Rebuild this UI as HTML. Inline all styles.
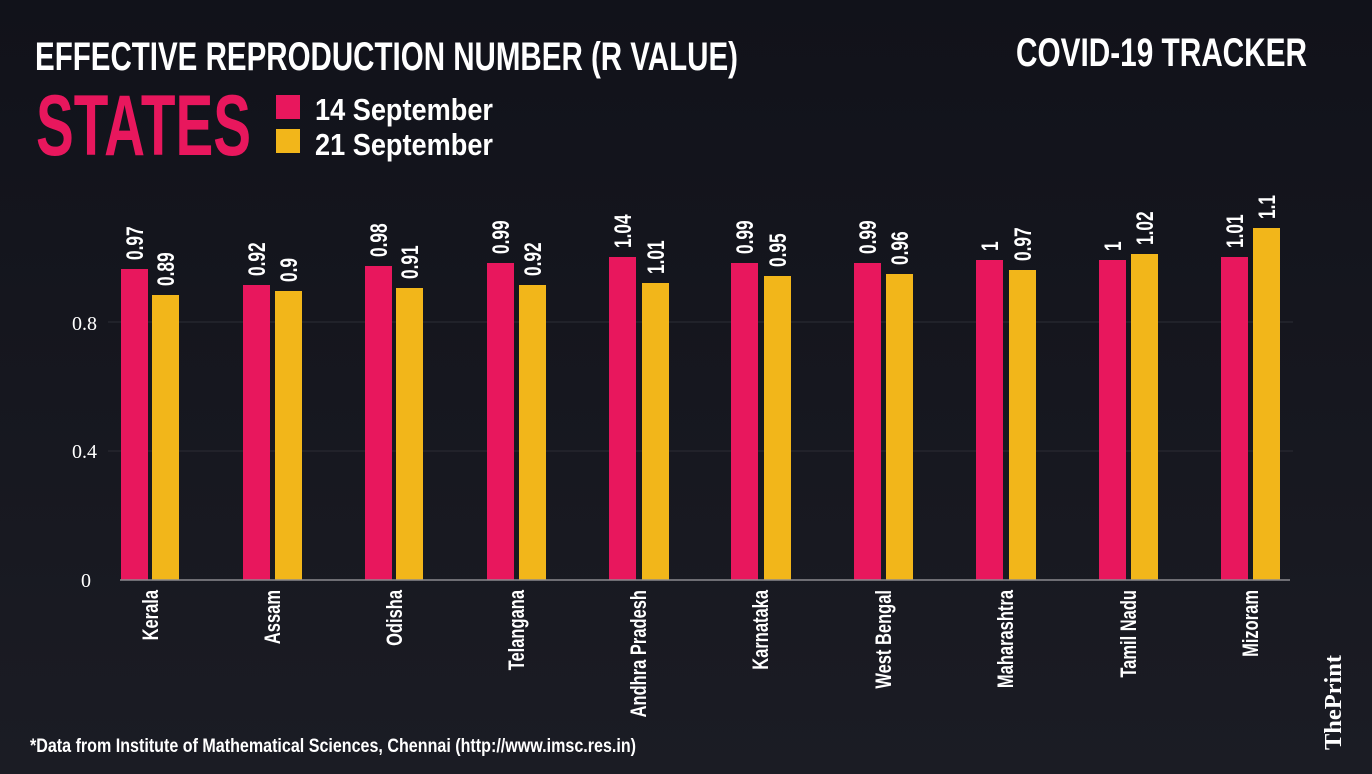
<!DOCTYPE html>
<html><head><meta charset="utf-8"><style>
html,body{margin:0;padding:0;background:#15161e;}
svg{display:block}
.v{font-size:24px}
.c{font-size:22px}
</style></head><body>
<svg width="1372" height="774" viewBox="0 0 1372 774" xmlns="http://www.w3.org/2000/svg">
<defs><linearGradient id="bg" x1="0" y1="0" x2="0" y2="1"><stop offset="0" stop-color="#11121a"/><stop offset="1" stop-color="#1b1c24"/></linearGradient></defs>
<rect width="1372" height="774" fill="url(#bg)"/>
<g font-family="Liberation Sans, sans-serif" font-weight="bold" fill="#fff">
<text x="35" y="70" font-size="40" textLength="703" lengthAdjust="spacingAndGlyphs">EFFECTIVE REPRODUCTION NUMBER (R VALUE)</text>
<text x="1016" y="66" font-size="40" textLength="291" lengthAdjust="spacingAndGlyphs">COVID-19 TRACKER</text>
<text x="36" y="155" font-size="86" fill="#e8175d" textLength="215" lengthAdjust="spacingAndGlyphs">STATES</text>
<rect x="276" y="95" width="24" height="24" fill="#e8175d"/>
<rect x="276" y="129" width="24" height="24" fill="#f2b61a"/>
<text x="315" y="120" font-size="31" textLength="178" lengthAdjust="spacingAndGlyphs">14 September</text>
<text x="315" y="155" font-size="31" textLength="178" lengthAdjust="spacingAndGlyphs">21 September</text>
<text x="30" y="752" font-size="19" textLength="606" lengthAdjust="spacingAndGlyphs">*Data from Institute of Mathematical Sciences, Chennai (http://www.imsc.res.in)</text>
</g>
<text transform="translate(1341,750) rotate(-90)" font-family="Liberation Serif, serif" font-weight="bold" font-size="24" fill="#fff" textLength="95" lengthAdjust="spacingAndGlyphs">ThePrint</text>
<g stroke="#2c2d35" stroke-width="1">
<line x1="108" y1="322" x2="1293" y2="322"/>
<line x1="108" y1="451" x2="1293" y2="451"/>
</g>
<g font-family="Liberation Serif, serif" font-size="20" fill="#fff" text-anchor="end">
<text x="97" y="330">0.8</text>
<text x="97" y="458">0.4</text>
<text x="91" y="587">0</text>
</g>
<g fill="#e8175d">
<rect x="121" y="269" width="27" height="311"/>
<rect x="243" y="285" width="27" height="295"/>
<rect x="365" y="266" width="27" height="314"/>
<rect x="487" y="263" width="27" height="317"/>
<rect x="609" y="257" width="27" height="323"/>
<rect x="731" y="263" width="27" height="317"/>
<rect x="854" y="263" width="27" height="317"/>
<rect x="976" y="260" width="27" height="320"/>
<rect x="1099" y="260" width="27" height="320"/>
<rect x="1221" y="257" width="27" height="323"/>
</g>
<g fill="#f2b61a">
<rect x="152" y="295" width="27" height="285"/>
<rect x="275" y="291" width="27" height="289"/>
<rect x="396" y="288" width="27" height="292"/>
<rect x="519" y="285" width="27" height="295"/>
<rect x="642" y="283" width="27" height="297"/>
<rect x="764" y="276" width="27" height="304"/>
<rect x="886" y="274" width="27" height="306"/>
<rect x="1009" y="270" width="27" height="310"/>
<rect x="1131" y="254" width="27" height="326"/>
<rect x="1253" y="228" width="27" height="352"/>
</g>
<g font-family="Liberation Sans, sans-serif" font-weight="bold" fill="#fff">
<text class="v" transform="translate(143,260) rotate(-90) scale(0.72,1)">0.97</text>
<text class="v" transform="translate(174,286) rotate(-90) scale(0.72,1)">0.89</text>
<text class="v" transform="translate(265,276) rotate(-90) scale(0.72,1)">0.92</text>
<text class="v" transform="translate(297,282) rotate(-90) scale(0.72,1)">0.9</text>
<text class="v" transform="translate(387,257) rotate(-90) scale(0.72,1)">0.98</text>
<text class="v" transform="translate(418,279) rotate(-90) scale(0.72,1)">0.91</text>
<text class="v" transform="translate(509,254) rotate(-90) scale(0.72,1)">0.99</text>
<text class="v" transform="translate(541,276) rotate(-90) scale(0.72,1)">0.92</text>
<text class="v" transform="translate(631,248) rotate(-90) scale(0.72,1)">1.04</text>
<text class="v" transform="translate(664,274) rotate(-90) scale(0.72,1)">1.01</text>
<text class="v" transform="translate(753,254) rotate(-90) scale(0.72,1)">0.99</text>
<text class="v" transform="translate(786,267) rotate(-90) scale(0.72,1)">0.95</text>
<text class="v" transform="translate(876,254) rotate(-90) scale(0.72,1)">0.99</text>
<text class="v" transform="translate(908,265) rotate(-90) scale(0.72,1)">0.96</text>
<text class="v" transform="translate(998,251) rotate(-90) scale(0.72,1)">1</text>
<text class="v" transform="translate(1031,261) rotate(-90) scale(0.72,1)">0.97</text>
<text class="v" transform="translate(1121,251) rotate(-90) scale(0.72,1)">1</text>
<text class="v" transform="translate(1153,245) rotate(-90) scale(0.72,1)">1.02</text>
<text class="v" transform="translate(1243,248) rotate(-90) scale(0.72,1)">1.01</text>
<text class="v" transform="translate(1275,219) rotate(-90) scale(0.72,1)">1.1</text>
<g text-anchor="end">
<text class="c" transform="translate(158,590) rotate(-90) scale(0.75,1)">Kerala</text>
<text class="c" transform="translate(280,590) rotate(-90) scale(0.75,1)">Assam</text>
<text class="c" transform="translate(402,590) rotate(-90) scale(0.75,1)">Odisha</text>
<text class="c" transform="translate(524,590) rotate(-90) scale(0.75,1)">Telangana</text>
<text class="c" transform="translate(646,590) rotate(-90) scale(0.75,1)">Andhra Pradesh</text>
<text class="c" transform="translate(768,590) rotate(-90) scale(0.75,1)">Karnataka</text>
<text class="c" transform="translate(891,590) rotate(-90) scale(0.75,1)">West Bengal</text>
<text class="c" transform="translate(1013,590) rotate(-90) scale(0.75,1)">Maharashtra</text>
<text class="c" transform="translate(1136,590) rotate(-90) scale(0.75,1)">Tamil Nadu</text>
<text class="c" transform="translate(1258,590) rotate(-90) scale(0.75,1)">Mizoram</text>
</g>
</g>
<line x1="120" y1="580" x2="1290" y2="580" stroke="#8a8a90" stroke-width="1.5"/>
</svg>
</body></html>
